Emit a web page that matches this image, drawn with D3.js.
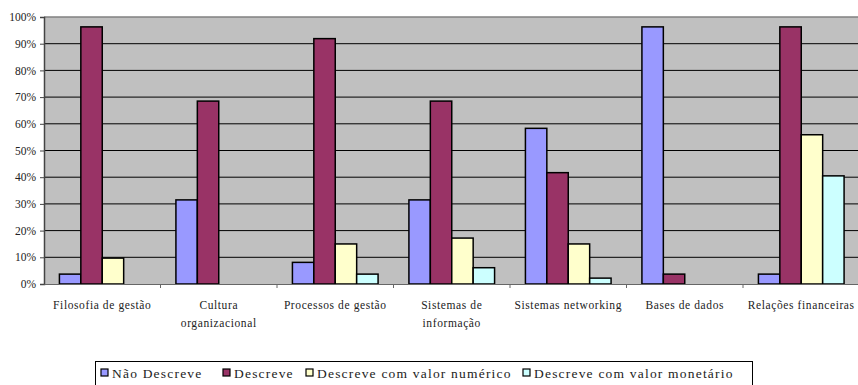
<!DOCTYPE html>
<html>
<head>
<meta charset="utf-8">
<script src="https://cdn.jsdelivr.net/npm/d3@7"></script>
<style>
  body { margin: 0; background: #fff; }
  svg text { font-family: "Liberation Serif", "Times New Roman", "DejaVu Serif", serif !important; fill: #222; }
</style>
</head>
<body>
<svg id="chart" width="858" height="385"></svg>
<script>
// categories and series (percent)
var categories = ["Filosofia de gestão", "Cultura organizacional", "Processos de gestão",
  "Sistemas de informação", "Sistemas networking", "Bases de dados", "Relações financeiras"];
var catLines = [["Filosofia de gestão"], ["Cultura", "organizacional"], ["Processos de gestão"],
  ["Sistemas de", "informação"], ["Sistemas networking"], ["Bases de dados"], ["Relações financeiras"]];
var seriesNames = ["Não Descreve", "Descreve", "Descreve com valor numérico", "Descreve com valor monetário"];
var naoDescreve = [3.7, 31.5, 8.1, 31.5, 58.3, 96.3, 3.7];
var descreve = [96.3, 68.5, 91.9, 68.5, 41.7, 3.7, 96.3];
var valorNumerico = [9.7, 0, 15.0, 17.2, 15.0, 0, 55.9];
var valorMonetario = [0, 0, 3.7, 6.1, 2.2, 0, 40.5];
var yTicks = [0, 10, 20, 30, 40, 50, 60, 70, 80, 90, 100];
var colors = ["#9999ff", "#993366", "#ffffcc", "#ccffff"];

var allSeries = [naoDescreve, descreve, valorNumerico, valorMonetario];
var data = categories.map(function(c, i) {
  return { cat: c, values: allSeries.map(function(s, k) { return { key: seriesNames[k], value: s[i] }; }) };
});

var svg = d3.select("#chart"),
    plot = {left: 44, right: 859.5, top: 17, bottom: 284};

var x0 = d3.scaleBand().domain(categories).range([plot.left, plot.right]).padding(0);
var x1 = d3.scaleBand().domain(seriesNames).range([0, x0.bandwidth()]).paddingInner(0).paddingOuter(0.72);
var y = d3.scaleLinear().domain([0, 100]).range([plot.bottom, plot.top]);
var color = d3.scaleOrdinal().domain(seriesNames).range(colors);

// plot background
svg.append("rect")
    .attr("x", plot.left).attr("y", plot.top)
    .attr("width", plot.right - plot.left).attr("height", plot.bottom - plot.top)
    .attr("fill", "#c0c0c0");

// gridlines
svg.append("g")
  .selectAll("line")
  .data(yTicks.slice(1))
  .enter().append("line")
    .attr("x1", plot.left).attr("x2", plot.right)
    .attr("y1", function(d) { return y(d); })
    .attr("y2", function(d) { return y(d); })
    .attr("stroke", function(d) { return d === 100 ? "#808080" : "#000"; })
    .attr("stroke-width", function(d) { return d === 100 ? 1.5 : 1; });

// bars
var groups = svg.append("g").selectAll("g")
  .data(data)
  .enter().append("g")
    .attr("transform", function(d) { return "translate(" + x0(d.cat) + ",0)"; });

groups.selectAll("rect")
  .data(function(d) { return d.values.filter(function(v) { return v.value > 0; }); })
  .enter().append("rect")
    .attr("x", function(d) { return x1(d.key); })
    .attr("y", function(d) { return y(d.value); })
    .attr("width", x1.bandwidth())
    .attr("height", function(d) { return y(0) - y(d.value); })
    .attr("fill", function(d) { return color(d.key); })
    .attr("stroke", "#000")
    .attr("stroke-width", 1.5);

// y axis
var yAxis = svg.append("g")
    .attr("transform", "translate(" + plot.left + ",0)")
    .call(d3.axisLeft(y).tickValues(yTicks).tickFormat(function(d) { return d + "%"; }).tickSize(4).tickPadding(4));
yAxis.attr("font-family", null);
yAxis.select(".domain").attr("stroke", "#444").attr("stroke-width", 1.5);
yAxis.selectAll(".tick line").attr("stroke", "#444");
yAxis.selectAll("text").style("font-size", "11.5px").attr("fill", "#222");

// x axis
var xAxis = svg.append("g")
    .attr("transform", "translate(0," + plot.bottom + ")")
    .call(d3.axisBottom(x0).tickSize(0).tickFormat(""));
xAxis.select(".domain").attr("stroke", "#666");
xAxis.append("g").selectAll("line")
  .data(categories.slice(1))
  .enter().append("line")
    .attr("x1", function(d) { return x0(d); }).attr("x2", function(d) { return x0(d); })
    .attr("y1", 0).attr("y2", 4)
    .attr("stroke", "#666");

var labels = svg.append("g").selectAll("text")
  .data(categories)
  .enter().append("text")
    .attr("x", function(d) { return x0(d) + x0.bandwidth() / 2; })
    .attr("y", 309)
    .attr("text-anchor", "middle")
    .attr("letter-spacing", "0.6px")
    .style("font-size", "11.5px");
labels.each(function(d, i) {
  var t = d3.select(this);
  catLines[i].forEach(function(line, j) {
    t.append("tspan")
      .attr("x", x0(d) + x0.bandwidth() / 2)
      .attr("dy", j === 0 ? 0 : 18)
      .text(line);
  });
});

// legend
var legend = svg.append("g");
legend.append("rect")
    .attr("x", 95.5).attr("y", 361.5)
    .attr("width", 657).attr("height", 24)
    .attr("fill", "#fff").attr("stroke", "#000");

var legendX = [101, 223, 306, 523];
var items = legend.selectAll("g.item")
  .data(seriesNames)
  .enter().append("g")
    .attr("class", "item")
    .attr("transform", function(d, i) { return "translate(" + legendX[i] + ",369)"; });
items.append("rect")
    .attr("width", 7).attr("height", 7)
    .attr("fill", function(d) { return color(d); })
    .attr("stroke", "#000").attr("stroke-width", 1.2);
items.append("text")
    .attr("x", 11).attr("y", 9)
    .style("font-size", "13.5px")
    .attr("letter-spacing", "1.2px")
    .text(function(d) { return d; });
</script>
</body>
</html>
